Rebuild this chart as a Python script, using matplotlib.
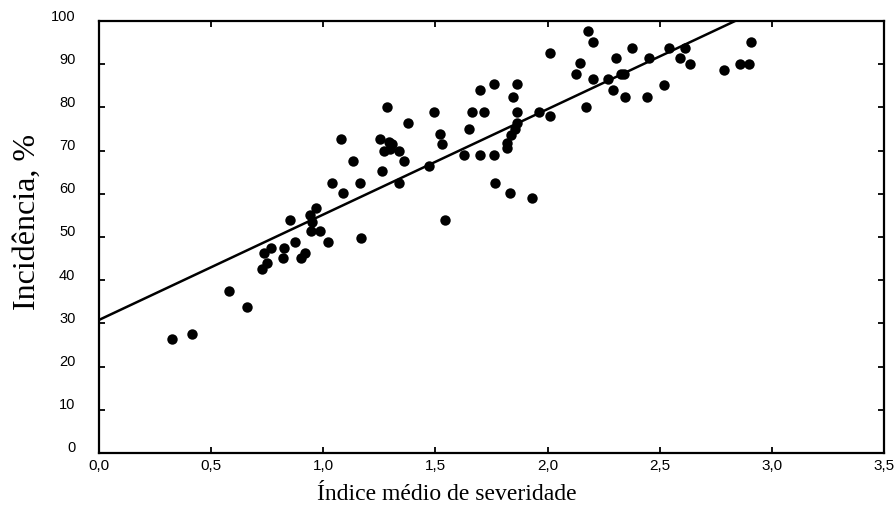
import matplotlib
matplotlib.use("Agg")
import matplotlib.pyplot as plt
import matplotlib.transforms as mtransforms
import numpy as np

# ------------------------------------------------------------
# DATA
# ------------------------------------------------------------
severidade = [
    0.325, 0.415, 0.579, 0.661, 0.726, 0.734, 0.748, 0.768, 0.820, 0.826,
    0.850, 0.874, 0.900, 0.917, 0.942, 0.949, 0.967, 0.945, 0.987, 1.022,
    1.040, 1.090, 1.166, 1.167, 1.262, 1.284, 1.377, 1.080, 1.254, 1.292,
    1.306, 1.270, 1.299, 1.336, 1.133, 1.362, 1.470, 1.336, 1.492, 1.519,
    1.530, 1.543, 1.649, 1.626, 1.663, 1.700, 1.701, 1.716, 1.763, 1.763,
    1.765, 1.817, 1.817, 1.835, 1.832, 1.844, 1.857, 1.863, 1.862, 1.862,
    1.931, 1.964, 2.013, 2.013, 2.129, 2.146, 2.170, 2.181, 2.203, 2.203,
    2.268, 2.293, 2.304, 2.326, 2.342, 2.345, 2.378, 2.442, 2.452, 2.519,
    2.542, 2.591, 2.613, 2.635, 2.787, 2.857, 2.899, 2.906,
]
incidencia = [
    26.4, 27.5, 37.6, 33.9, 42.5, 46.4, 44.0, 47.5, 45.2, 47.5,
    53.9, 48.8, 45.2, 46.4, 55.2, 53.5, 56.6, 51.4, 51.5, 48.8,
    62.6, 60.1, 62.6, 49.8, 65.2, 80.2, 76.3, 72.7, 72.8, 72.1,
    71.5, 70.0, 70.3, 69.9, 67.7, 67.7, 66.4, 62.6, 79.0, 73.9,
    71.5, 53.9, 74.9, 69.0, 79.0, 84.0, 69.0, 79.0, 85.4, 69.0,
    62.6, 71.7, 70.5, 73.7, 60.1, 82.5, 74.9, 76.3, 85.4, 79.0,
    59.1, 79.0, 92.7, 77.9, 87.7, 90.2, 80.2, 97.8, 95.1, 86.5,
    86.5, 84.0, 91.5, 87.7, 87.7, 82.5, 93.8, 82.5, 91.5, 85.3,
    93.8, 91.5, 93.8, 90.0, 88.7, 90.0, 90.0, 95.1,
]

# regression line as drawn in the figure
intercepto = 30.8
inclinacao = 24.4

x_ticks = [0.0, 0.5, 1.0, 1.5, 2.0, 2.5, 3.0, 3.5]
x_ticklabels = ["0,0", "0,5", "1,0", "1,5", "2,0", "2,5", "3,0", "3,5"]
y_ticks = [0, 10, 20, 30, 40, 50, 60, 70, 80, 90, 100]

# ------------------------------------------------------------
# FIGURE
# ------------------------------------------------------------
fig = plt.figure(figsize=(8.94, 5.16), dpi=100)
ax = fig.add_axes([0.1107, 0.1221, 0.8781, 0.8372])

ax.plot(severidade, incidencia, "o", color="black", markersize=7.5,
        markeredgewidth=0)

xl = np.array([0.0, 3.5])
ax.plot(xl, intercepto + inclinacao * xl, color="black", linewidth=1.8)

ax.set_xlim(0, 3.5)
ax.set_ylim(0, 100)

ax.set_xticks(x_ticks)
ax.set_xticklabels(x_ticklabels, family="Liberation Sans", fontsize=11)
ax.set_yticks(y_ticks)
ax.set_yticklabels([str(v) for v in y_ticks], family="Liberation Sans", fontsize=10.5)

ax.tick_params(direction="in", length=4, width=1.3, top=True, right=True)
ax.tick_params(axis="y", pad=17)
ax.tick_params(axis="x", pad=4)

# y tick labels sit a little above their ticks
shift = mtransforms.ScaledTranslation(0, 6 / 100, fig.dpi_scale_trans)
for lbl in ax.get_yticklabels():
    lbl.set_transform(lbl.get_transform() + shift)

for sp in ax.spines.values():
    sp.set_linewidth(1.6)

ax.set_xlabel("Índice médio de severidade", family="Liberation Serif", fontsize=17)
ax.set_ylabel("Incidência, %", family="Liberation Serif", fontsize=23)
ax.xaxis.set_label_coords(0.443, -0.095)
ax.xaxis.label.set_verticalalignment("center")
ax.yaxis.set_label_coords(-0.0917, 0.535)
ax.yaxis.label.set_verticalalignment("center")

fig.savefig("out.png", dpi=100)
